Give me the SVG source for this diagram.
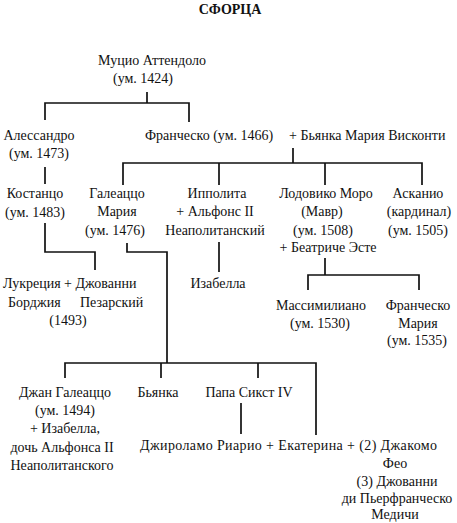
<svg xmlns="http://www.w3.org/2000/svg" width="457" height="523" viewBox="0 0 457 523">
<style>
text{font-family:"Liberation Serif","Times New Roman",serif;font-size:14px;fill:#111;text-anchor:middle}
.s{text-anchor:start}
.t{font-weight:bold;font-size:14px}
.c path{fill:none;stroke:#111;stroke-width:1.7}
</style>
<rect width="457" height="523" fill="#fff"/>
<g id="title"><text class="t" x="230" y="14">СФОРЦА</text></g>
<g class="c" id="connectors">
<path d="M147 92V103M45 120V103H189V122"/>
<path d="M293 148V163M123 185V163H422V185M219 163V185M325 163V185"/>
<path d="M45 167V184"/>
<path d="M45 223V252H95V270"/>
<path d="M127 243V252H167V363"/>
<path d="M219 242V272"/>
<path d="M325 258V275M308 290V275H419V290"/>
<path d="M65 378V363H316V435M161 363V378M258 363V378"/>
<path d="M241 403V434"/>
</g>
<g id="mucio"><text x="152" y="65">Муцио Аттендоло</text><text x="143" y="83">(ум. 1424)</text></g>
<g id="alessandro"><text x="39" y="140">Алессандро</text><text x="39" y="158">(ум. 1473)</text></g>
<g id="francesco"><text class="s" x="145" y="140">Франческо (ум. 1466)</text><text class="s" x="289" y="140">+ Бьянка Мария Висконти</text></g>
<g id="kostanzo"><text x="35" y="198">Костанцо</text><text x="35" y="217">(ум. 1483)</text></g>
<g id="galeazzo"><text x="117" y="198">Галеаццо</text><text x="117" y="216">Мария</text><text x="115" y="235">(ум. 1476)</text></g>
<g id="ippolita"><text x="217" y="198">Ипполита</text><text x="215" y="216">+ Альфонс II</text><text x="215" y="235">Неаполитанский</text></g>
<g id="lodovico"><text x="326" y="198">Лодовико Моро</text><text x="322" y="216">(Мавр)</text><text x="323" y="235">(ум. 1508)</text><text x="328" y="252">+ Беатриче Эсте</text></g>
<g id="ascanio"><text x="418" y="198">Асканио</text><text x="419" y="216">(кардинал)</text><text x="418" y="235">(ум. 1505)</text></g>
<g id="lucrezia"><text class="s" x="3" y="288">Лукреция + Джованни</text><text class="s" x="8" y="307">Борджия</text><text class="s" x="80" y="307">Пезарский</text><text x="68" y="325">(1493)</text></g>
<g id="isabella"><text x="218" y="288">Изабелла</text></g>
<g id="massimiliano"><text x="321" y="310">Массимилиано</text><text x="320" y="328">(ум. 1530)</text></g>
<g id="francesco-maria"><text x="418" y="310">Франческо</text><text x="418" y="328">Мария</text><text x="417" y="345">(ум. 1535)</text></g>
<g id="gian"><text x="65" y="397">Джан Галеаццо</text><text x="65" y="415">(ум. 1494)</text><text x="65" y="433">+ Изабелла,</text><text x="62" y="452">дочь Альфонса II</text><text x="62" y="470">Неаполитанского</text></g>
<g id="bianca"><text x="158" y="397">Бьянка</text></g>
<g id="papa"><text x="249" y="397">Папа Сикст IV</text></g>
<g id="girolamo"><text class="s" x="140" y="450" textLength="297" lengthAdjust="spacing">Джироламо Риарио + Екатерина + (2) Джакомо</text><text x="395" y="468">Фео</text><text x="397" y="486">(3) Джованни</text><text x="397" y="503">ди Пьерфранческо</text><text x="395" y="519">Медичи</text></g>
</svg>
